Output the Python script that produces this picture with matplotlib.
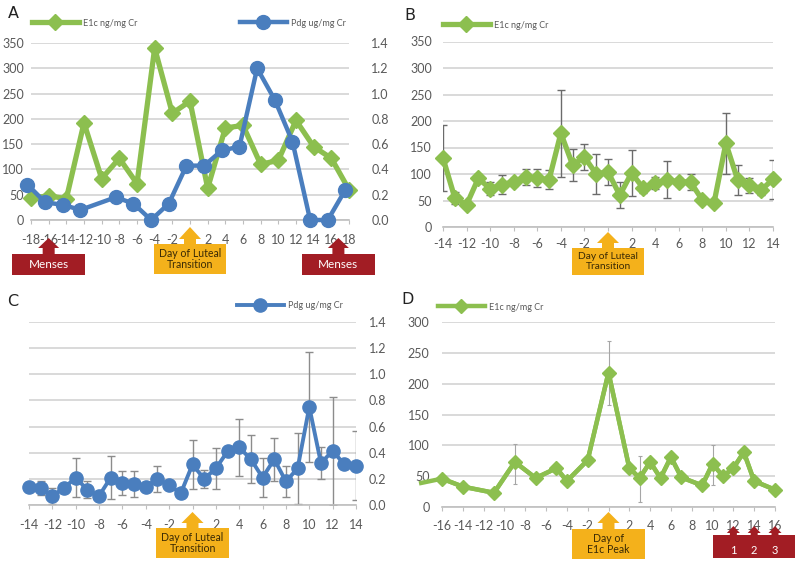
import matplotlib
matplotlib.use('Agg')
import matplotlib.pyplot as plt
from matplotlib.patches import Polygon, Rectangle

plt.rcParams['font.family'] = ['Lato', 'DejaVu Sans']

GREEN = '#8CBF4F'
BLUE = '#4A7EBE'
RED = '#A21D24'
GOLD = '#F4B11B'
GRID = '#D9D9D9'
TXT = '#595959'
W, H = 800, 566

# A: single cycle, E1c (left axis) and Pdg (right axis)
a_days = [-18, -16, -14, -12, -10, -8, -6, -4, -2, 0, 2, 4, 6, 8, 10, 12, 14, 16, 18]
a_e1c = [43, 48, 42, 192, 82, 122, 72, 340, 211, 235, 63, 182, 187, 110, 118, 197, 145, 122, 60]
a_pdg_days = [-18, -16, -14, -12, -8, -6, -4, -2, 0, 2, 4, 6, 8, 10, 12, 14, 16, 18]
a_pdg = [0.28, 0.14, 0.12, 0.08, 0.18, 0.13, 0.0, 0.13, 0.43, 0.43, 0.55, 0.58, 1.2, 0.95, 0.62, 0.0, 0.0, 0.24]

# B: mean E1c around luteal transition
b_days = [-14, -13, -12, -11, -10, -9, -8, -7, -6, -5, -4, -3, -2, -1, 0,
          1, 2, 3, 4, 5, 6, 7, 8, 9, 10, 11, 12, 13, 14]
b_e1c = [130, 55, 42, 92, 72, 80, 85, 95, 92, 89, 177, 117, 132, 100, 104,
         60, 102, 73, 83, 89, 85, 85, 51, 46, 158, 89, 79, 70, 90]
b_err = [62, 11, 5, 8, 12, 18, 8, 15, 17, 18, 82, 30, 24, 38, 25,
         25, 44, 8, 12, 35, 8, 15, 6, 5, 58, 28, 14, 10, 37]

# C: mean Pdg around luteal transition
c_days = b_days
c_pdg = [0.14, 0.13, 0.07, 0.13, 0.21, 0.115, 0.07, 0.21, 0.17, 0.16, 0.14, 0.20, 0.15, 0.09, 0.31,
         0.20, 0.28, 0.41, 0.44, 0.35, 0.21, 0.35, 0.18, 0.28, 0.75, 0.32, 0.415, 0.31, 0.30]
c_err = [0, 0.055, 0.06, 0, 0.15, 0.065, 0, 0.165, 0.09, 0.10, 0, 0.10, 0, 0, 0.185,
         0.07, 0.155, 0, 0.22, 0.185, 0.15, 0.165, 0.12, 0.27, 0.42, 0.12, 0.415, 0, 0.265]

# D: E1c around E1c peak
d_days = [-18, -16, -14, -11, -9, -7, -5, -4, -2, 0, 2, 3, 4, 5, 6, 7, 9, 10, 11, 12, 13, 14, 16]
d_e1c = [39, 46, 33, 23, 73, 47, 63, 42, 76, 218, 63, 47, 73, 47, 81, 48, 35, 70, 50, 63, 89, 42, 28]
d_err_days = [-9, 0, 3, 10]
d_err_vals = [70, 218, 45, 68]
d_err = [32, 52, 37, 32]


def panel(left, right, top, bottom):
    return fig.add_axes([left / W, 1 - bottom / H, (right - left) / W, (bottom - top) / H])


def style(ax, xlim, xticks, ylim, yticks, ylabels, ypad, xpad):
    ax.set_xlim(xlim)
    ax.set_ylim(ylim)
    ax.set_xticks(xticks)
    ax.set_xticklabels(['' if t == 0 else str(t) for t in xticks])
    ax.set_yticks(yticks)
    ax.set_yticklabels(ylabels)
    ax.grid(axis='y', color=GRID, lw=1.4)
    ax.set_axisbelow(True)
    for s in ['top', 'left', 'right']:
        ax.spines[s].set_visible(False)
    ax.spines['bottom'].set_color('#BFBFBF')
    ax.spines['bottom'].set_linewidth(1.2)
    ax.tick_params(axis='x', length=3, color='#BFBFBF', labelsize=9, labelcolor=TXT, pad=xpad)
    ax.tick_params(axis='y', length=0, labelsize=9, labelcolor=TXT, pad=ypad)


def legend(ax, line, label, x, y):
    ax.legend([line], [label], loc='center left', bbox_to_anchor=(x / W, 1 - y / H),
              bbox_transform=fig.transFigure, frameon=False, fontsize=6.5,
              handlelength=5.2, handletextpad=0.4, borderpad=0, borderaxespad=0,
              labelcolor=TXT)


def px(ax, x):
    return ax.transData.transform((x, 0))[0]


def up_arrow(ov, xc, tip, base, head_w, shaft_w, head_h, color):
    pts = [(xc, tip), (xc + head_w / 2, tip + head_h), (xc + shaft_w / 2, tip + head_h),
           (xc + shaft_w / 2, base), (xc - shaft_w / 2, base), (xc - shaft_w / 2, tip + head_h),
           (xc - head_w / 2, tip + head_h)]
    ov.add_patch(Polygon(pts, closed=True, color=color, lw=0))


def box(ov, xc, top, w, h, color, text, tcolor, size):
    ov.add_patch(Rectangle((xc - w / 2, top), w, h, color=color, lw=0))
    ov.text(xc, top + h / 2, text, ha='center', va='center', color=tcolor,
            fontsize=size, linespacing=1.05)


fig = plt.figure(figsize=(8, 5.66), dpi=100)
yt350 = [0, 50, 100, 150, 200, 250, 300, 350]
yt14 = [0, 0.2, 0.4, 0.6, 0.8, 1.0, 1.2, 1.4]
lab14 = [f'{v:.1f}' for v in yt14]

# ---- A
axA = panel(31, 349, 43, 220)
style(axA, (-18, 18), list(range(-18, 19, 2)), (0, 350), yt350, [str(v) for v in yt350], 5, 7)
lA, = axA.plot(a_days, a_e1c, color=GREEN, lw=3.8, marker='D', ms=8, clip_on=False, zorder=3)
axA2 = axA.twinx()
axA2.set_ylim(0, 1.4)
axA2.set_yticks(yt14)
axA2.set_yticklabels(lab14)
axA2.tick_params(axis='y', length=0, labelsize=9, labelcolor=TXT, pad=16)
for s in axA2.spines.values():
    s.set_visible(False)
pdg_shift = -0.4
lA2, = axA2.plot([d + pdg_shift for d in a_pdg_days], a_pdg, color=BLUE, lw=3.2, marker='o',
                 ms=10, clip_on=False, zorder=4)
legend(axA, lA, 'E1c ng/mg Cr', 32, 23)
legend(axA2, lA2, 'Pdg ug/mg Cr', 240, 23)

# ---- B
axB = panel(443, 773, 41.5, 227)
style(axB, (-14, 14), list(range(-14, 15, 2)), (0, 350), yt350, [str(v) for v in yt350], 8, 5)
axB.errorbar(b_days, b_e1c, yerr=b_err, fmt='none', ecolor='#6B6B6B', elinewidth=1,
             capsize=3, capthick=1, zorder=2)
lB, = axB.plot(b_days, b_e1c, color=GREEN, lw=3.8, marker='D', ms=8, clip_on=False, zorder=3)
legend(axB, lB, 'E1c ng/mg Cr', 443, 25)

# ---- C
axC = panel(29, 356, 322, 505)
style(axC, (-14, 14), list(range(-14, 15, 2)), (0, 1.4), yt14, lab14, 9, 7)
axC.yaxis.tick_right()
axC.errorbar(c_days, c_pdg, yerr=c_err, fmt='none', ecolor='#8C8C8C', elinewidth=1,
             capsize=3, capthick=1, zorder=2)
lC, = axC.plot(c_days, c_pdg, color=BLUE, lw=2.8, marker='o', ms=9.5, clip_on=False, zorder=3)
legend(axC, lC, 'Pdg ug/mg Cr', 237, 306)

# ---- D
axD = panel(442, 775, 322, 507)
yt300 = [0, 50, 100, 150, 200, 250, 300]
style(axD, (-16, 16), list(range(-16, 17, 2)), (0, 300), yt300, [str(v) for v in yt300], 9, 6)
axD.errorbar(d_err_days, d_err_vals, yerr=d_err, fmt='none', ecolor='#A6A6A6', elinewidth=0.8,
             capsize=1.5, capthick=0.8, zorder=2)
axD.plot(d_days, d_e1c, color=GREEN, lw=3.2, clip_on=False, zorder=3)
lD, = axD.plot(d_days[1:], d_e1c[1:], color=GREEN, lw=3.2, marker='D', ms=7.5, clip_on=False, zorder=3)
legend(axD, lD, 'E1c ng/mg Cr', 438, 307)

# ---- overlay: panel letters and event markers
ov = fig.add_axes([0, 0, 1, 1], zorder=10)
ov.set_xlim(0, W)
ov.set_ylim(H, 0)
ov.axis('off')
for letter, x, y in [('A', 13, 14), ('B', 410, 15), ('C', 13, 302), ('D', 408, 300)]:
    ov.text(x, y, letter, ha='center', va='center', fontsize=11.5, color='#222222',
            family=['DejaVu Sans'])

for d in (-16, 16.8):
    xc = px(axA, d)
    up_arrow(ov, xc, 238, 254, 21, 12, 10, RED)
    box(ov, xc, 254, 73, 21, RED, 'Menses', 'white', 8.5)
xc = px(axA, 0)
up_arrow(ov, xc, 227, 244, 22, 12, 12, GOLD)
box(ov, xc, 244, 72, 30, GOLD, 'Day of Luteal\nTransition', '#3A2A05', 7.6)

xc = px(axB, 0)
up_arrow(ov, xc, 232, 248, 22, 12, 11, GOLD)
box(ov, xc, 248, 72, 27, GOLD, 'Day of Luteal\nTransition', '#3A2A05', 7.4)

xc = px(axC, 0)
up_arrow(ov, xc, 512, 528, 22, 12, 11, GOLD)
box(ov, xc, 528, 73, 30, GOLD, 'Day of Luteal\nTransition', '#3A2A05', 7.6)

xc = px(axD, 0)
up_arrow(ov, xc, 512, 529, 22, 12, 11, GOLD)
box(ov, xc, 529, 73, 30, GOLD, 'Day of\nE1c Peak', '#3A2A05', 7.6)

x12, x16 = px(axD, 12), px(axD, 16)
ov.add_patch(Rectangle((x12 - 20, 535), x16 - x12 + 40, 23, color=RED, lw=0))
for n, d in enumerate((12, 14, 16), start=1):
    xc = px(axD, d)
    up_arrow(ov, xc, 526, 536, 13, 7, 7, RED)
    ov.text(xc, 551, str(n), ha='center', va='center', color='white', fontsize=8)

fig.savefig('out.png', dpi=100)
